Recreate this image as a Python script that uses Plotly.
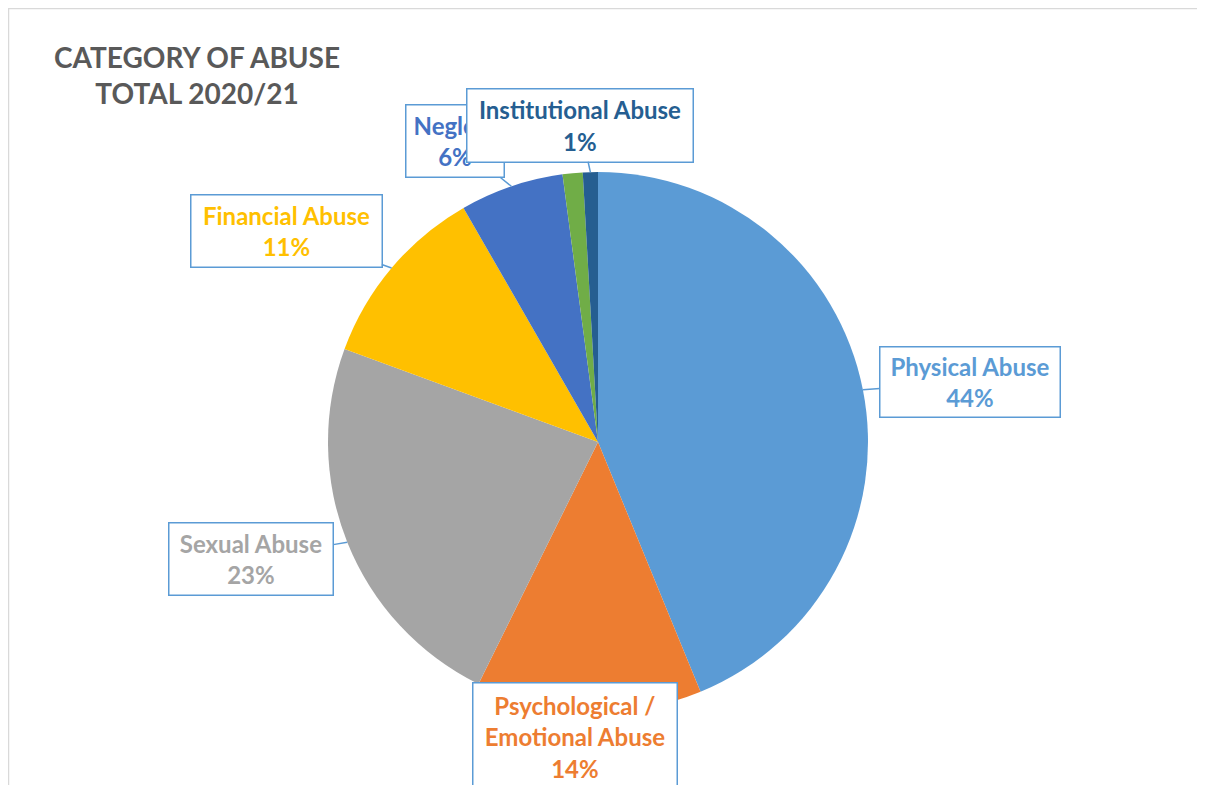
import math
import plotly.graph_objects as go

# ---- data (percent of total) ----
categories = ["Physical Abuse", "Psychological / Emotional Abuse", "Sexual Abuse",
              "Financial Abuse", "Neglect", "Discriminatory Abuse", "Institutional Abuse"]
values = [43.8, 13.5, 23.3, 11.1, 6.2, 1.2, 0.9]
colors = ["#5B9BD5", "#ED7D31", "#A5A5A5", "#FFC000", "#4472C4", "#70AD47", "#255E91"]
show_label = [True, True, True, True, True, False, True]

title_text = "CATEGORY OF ABUSE<br>TOTAL 2020/21"

# ---- layout constants ----
W, H = 1205, 785
OFF = 8  # page body margin
CX, CY, R = 598 - OFF, 442 - OFF, 270  # pie centre / radius in pixels

# callout boxes: (centre x px, centre y px, width, height) in page pixels
boxes = {
    "Physical Abuse": (970, 382, 182, 72),
    "Psychological / Emotional Abuse": (575, 737, 206, 110),
    "Sexual Abuse": (251, 559, 166, 74),
    "Financial Abuse": (286, 231, 193, 74),
    "Neglect": (455, 141, 100, 74),
    "Institutional Abuse": (580, 125, 228, 75),
}
LABEL_SIZE = 24

fig = go.Figure()
fig.add_trace(go.Pie(
    labels=categories,
    values=values,
    sort=False,
    direction="clockwise",
    rotation=0,
    marker=dict(colors=colors, line=dict(width=0)),
    textinfo="none",
    hoverinfo="label+percent",
    showlegend=False,
    domain=dict(x=[(CX - R) / W, (CX + R) / W], y=[1 - (CY + R) / H, 1 - (CY - R) / H]),
))

total = sum(values)
annotations = []
cum = 0.0
for lab, v, col, show in zip(categories, values, colors, show_label):
    mid = (cum + v / 2) / total * 2 * math.pi
    cum += v
    if not show:
        continue
    tipx = CX + R * math.sin(mid)
    tipy = CY - R * math.cos(mid)
    bx, by, bw, bh = boxes[lab]
    bx -= OFF
    by -= OFF
    pct = round(v / total * 100)
    text = f"{lab.replace(' / ', ' /<br>')}<br>{pct}%"
    inside = abs(tipx - bx) < bw / 2 and abs(tipy - by) < bh / 2
    common = dict(
        xref="paper", yref="paper", text=text,
        font=dict(family="Lato", size=LABEL_SIZE, color=col, weight="bold"),
        bgcolor="white", bordercolor="#5B9BD5", borderwidth=1.5, borderpad=0,
        width=bw - 3, height=bh - 3, align="center", valign="middle",
    )
    if inside:
        annotations.append(dict(x=bx / W, y=1 - by / H, showarrow=False,
                                xanchor="center", yanchor="middle", **common))
    else:
        annotations.append(dict(x=tipx / W, y=1 - tipy / H, showarrow=True,
                                ax=bx - tipx, ay=by - tipy,
                                arrowhead=0, arrowwidth=1.5, arrowcolor="#5B9BD5",
                                **common))

annotations.append(dict(
    x=(197 - OFF) / W, y=1 - (75 - OFF) / H, xref="paper", yref="paper",
    text=title_text, showarrow=False, align="center",
    xanchor="center", yanchor="middle",
    font=dict(family="Lato", size=28, color="#595959", weight="bold"),
))

fig.update_layout(
    width=W, height=H,
    margin=dict(l=0, r=0, t=0, b=0),
    paper_bgcolor="white", plot_bgcolor="white",
    annotations=annotations,
    shapes=[dict(type="rect", xref="paper", yref="paper",
                 x0=0.5 / W, x1=1.02, y0=-0.02, y1=1 - 0.5 / H,
                 line=dict(color="#D9D9D9", width=1.5), layer="below")],
)

fig.write_html("out.html")
